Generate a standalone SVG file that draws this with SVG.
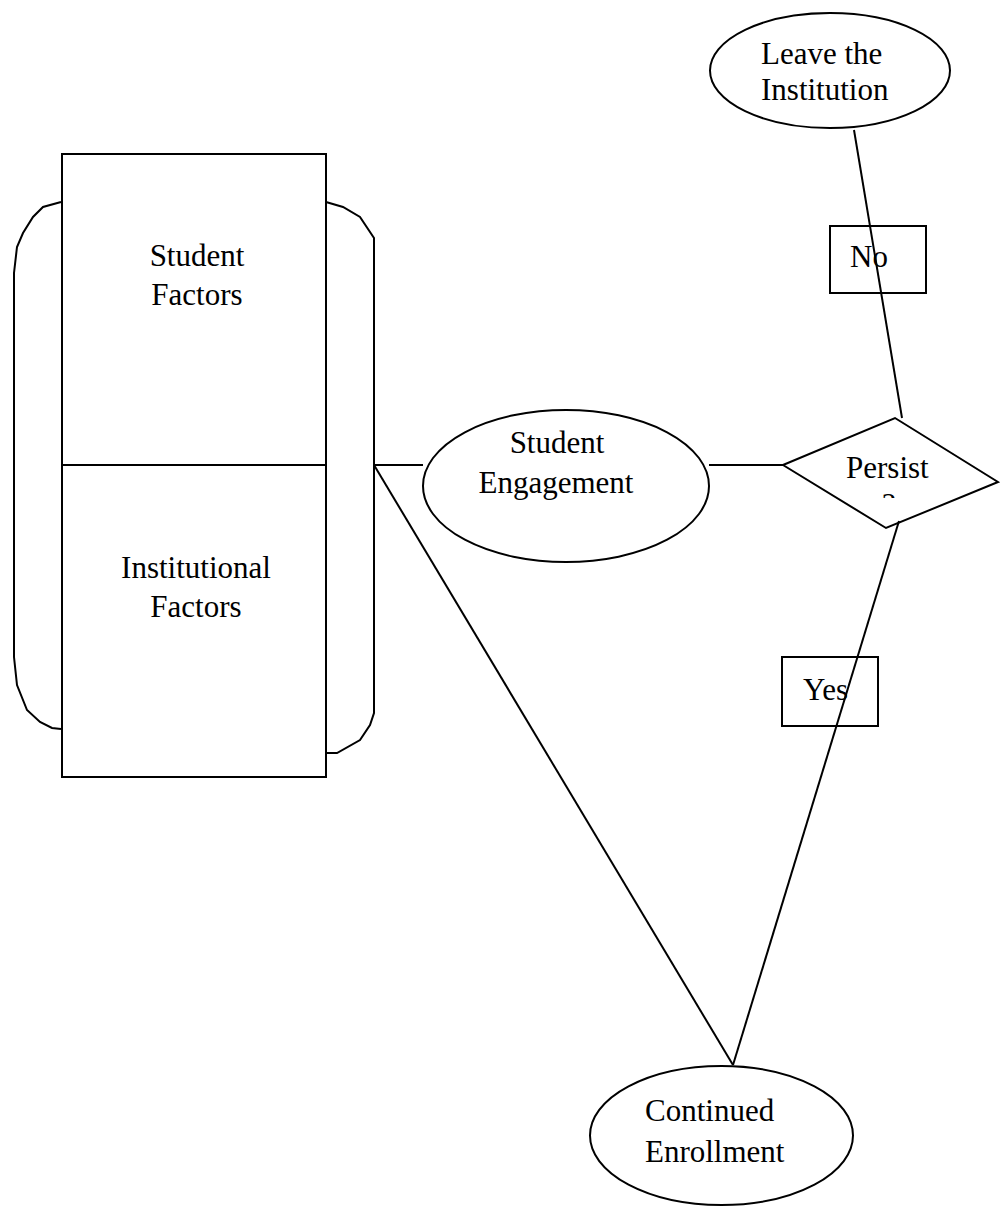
<svg xmlns="http://www.w3.org/2000/svg" width="1003" height="1207" viewBox="0 0 1003 1207">
<style>
.s{fill:#fff;stroke:#000;stroke-width:2}
.n{fill:none;stroke:#000;stroke-width:2}
.t{font-family:"Liberation Serif","Times New Roman",serif;font-size:31px;fill:#000}
.m{text-anchor:middle}
</style>
<defs>
<clipPath id="qclip"><rect x="870" y="480" width="40" height="18"/></clipPath>
</defs>
<rect width="1003" height="1207" fill="#fff"/>
<g id="bracket">
<path class="n" d="M61,202 L43,207 L33,217 L23,233 L17,247 L14,273 L14,657 L17,685 L27,710 L40,722 L52,728 L61,729"/>
<path class="n" d="M326,202 L343,207 L360,217 L374,238 L374,713 L370,725 L360,740 L337,753 L326,753"/>
</g>
<g id="student-factors">
<rect class="s" x="62" y="154" width="264" height="311"/>
<text class="t m" x="197" y="266">Student</text>
<text class="t m" x="197" y="305">Factors</text>
</g>
<g id="institutional-factors">
<rect class="s" x="62" y="465" width="264" height="312"/>
<text class="t m" x="196" y="578">Institutional</text>
<text class="t m" x="196" y="617">Factors</text>
</g>
<g id="student-engagement">
<ellipse class="s" cx="566" cy="486" rx="143" ry="76"/>
<text class="t m" x="557" y="453">Student</text>
<text class="t m" x="556" y="493">Engagement</text>
</g>
<g id="persist">
<polygon class="s" points="783,465 895,418 998,482 886,528"/>
<text class="t" x="846" y="478">Persist</text>
<text class="t m" x="889" y="515" clip-path="url(#qclip)">?</text>
</g>
<g id="leave">
<ellipse class="s" cx="830" cy="70.5" rx="120" ry="57.5"/>
<text class="t" x="761" y="64">Leave the</text>
<text class="t" x="761" y="100">Institution</text>
</g>
<g id="continued">
<ellipse class="s" cx="721.5" cy="1135.5" rx="131.5" ry="69.5"/>
<text class="t" x="645" y="1121">Continued</text>
<text class="t" x="645" y="1162">Enrollment</text>
</g>
<g id="label-no">
<rect class="n" x="830" y="226" width="96" height="67"/>
<text class="t" x="850" y="267">No</text>
</g>
<g id="label-yes">
<rect class="n" x="782" y="657" width="96" height="69"/>
<text class="t" x="803" y="700">Yes</text>
</g>
<g id="connectors">
<line class="n" x1="374" y1="465" x2="423" y2="465"/>
<line class="n" x1="709" y1="465" x2="783" y2="465"/>
<line class="n" x1="374" y1="465" x2="733" y2="1065"/>
<line class="n" x1="899" y1="521" x2="733" y2="1065"/>
<line class="n" x1="854" y1="130" x2="902" y2="418"/>
</g>
</svg>
